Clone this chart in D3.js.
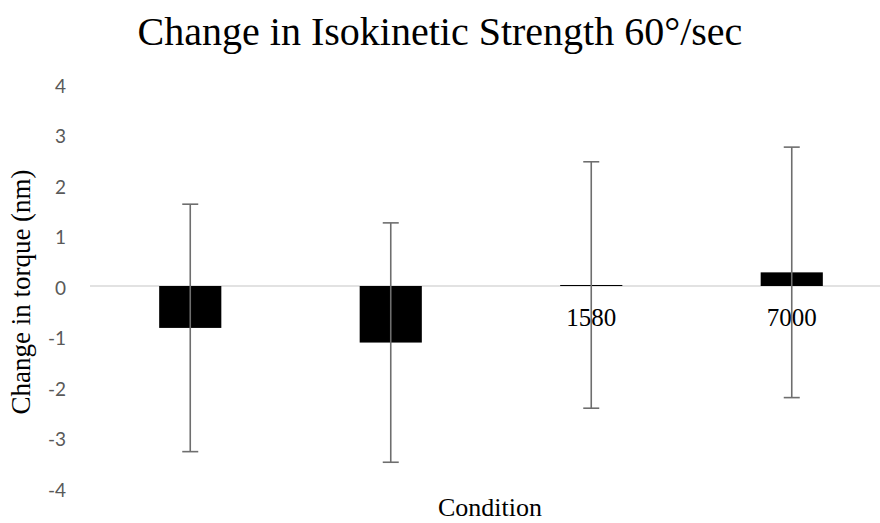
<!DOCTYPE html>
<html>
<head>
<meta charset="utf-8">
<script src="https://cdnjs.cloudflare.com/ajax/libs/d3/7.8.5/d3.min.js"></script>
<style>
html,body{margin:0;padding:0;background:#fff;}
svg{display:block;}
</style>
</head>
<body>
<svg id="chart" width="880" height="523"></svg>
<script>
const categories = ["A", "B", "C", "D"];
const categoryLabels = ["", "", "1580", "7000"];
const values = [-0.83, -1.12, 0.02, 0.27];
const errors = [2.45, 2.37, 2.44, 2.48];
const yTicks = [-4, -3, -2, -1, 0, 1, 2, 3, 4];

const svg = d3.select("#chart");
const W = 880, H = 523;
const m = {left: 90, right: -12, top: 84, bottom: 35};

const x = d3.scaleBand().domain(categories)
  .range([m.left, W - m.right]).paddingInner(0.69).paddingOuter(0.345);
const y = d3.scaleLinear().domain([-4, 4]).range([488, 84]);

// title
svg.append("text").attr("x", 440).attr("y", 45)
  .attr("text-anchor", "middle")
  .style("font-family", "'Liberation Serif', 'Times New Roman', serif")
  .style("font-size", "40px").attr("fill", "#000")
  .text("Change in Isokinetic Strength 60°/sec");

// y axis tick labels
const yAxis = d3.axisLeft(y).tickValues(yTicks).tickSize(0).tickPadding(0)
  .tickFormat(d => String(d));
const gy = svg.append("g").attr("transform", "translate(66,2)").call(yAxis);
gy.select(".domain").remove();
gy.selectAll("text")
  .style("font-family", "Lato, 'Open Sans', sans-serif")
  .style("font-size", "19px").attr("fill", "#595959");

// zero line
svg.append("line")
  .attr("x1", m.left).attr("x2", W - m.right)
  .attr("y1", y(0)).attr("y2", y(0))
  .attr("stroke", "#d9d9d9").attr("stroke-width", 1.5);

// bars
svg.append("g").selectAll("rect").data(values).join("rect")
  .attr("x", (d, i) => x(categories[i]))
  .attr("width", x.bandwidth())
  .attr("y", d => y(Math.max(0, d)))
  .attr("height", d => Math.max(1, Math.abs(y(d) - y(0))))
  .attr("fill", "#000");

// category labels
svg.append("g").selectAll("text").data(categoryLabels).join("text")
  .attr("x", (d, i) => x(categories[i]) + x.bandwidth() / 2)
  .attr("y", y(0) + 40)
  .attr("text-anchor", "middle")
  .style("font-family", "'Liberation Serif', serif")
  .style("font-size", "25px").attr("fill", "#000")
  .text(d => d);

// error bars
const eb = svg.append("g").attr("stroke", "#6e6e6e").attr("stroke-width", 1.6);
values.forEach((v, i) => {
  const cx = x(categories[i]) + x.bandwidth() / 2;
  const hi = y(v + errors[i]), lo = y(v - errors[i]);
  eb.append("line").attr("x1", cx).attr("x2", cx).attr("y1", hi).attr("y2", lo);
  eb.append("line").attr("x1", cx - 8).attr("x2", cx + 8).attr("y1", hi).attr("y2", hi);
  eb.append("line").attr("x1", cx - 8).attr("x2", cx + 8).attr("y1", lo).attr("y2", lo);
});

// axis titles
svg.append("text")
  .attr("transform", `translate(30, 292) rotate(-90)`)
  .attr("text-anchor", "middle")
  .style("font-family", "'Liberation Serif', serif")
  .style("font-size", "27px").attr("fill", "#000")
  .text("Change in torque (nm)");

svg.append("text")
  .attr("x", 490).attr("y", 516)
  .attr("text-anchor", "middle")
  .style("font-family", "'Liberation Serif', serif")
  .style("font-size", "26px").attr("fill", "#000")
  .text("Condition");
</script>
</body>
</html>
